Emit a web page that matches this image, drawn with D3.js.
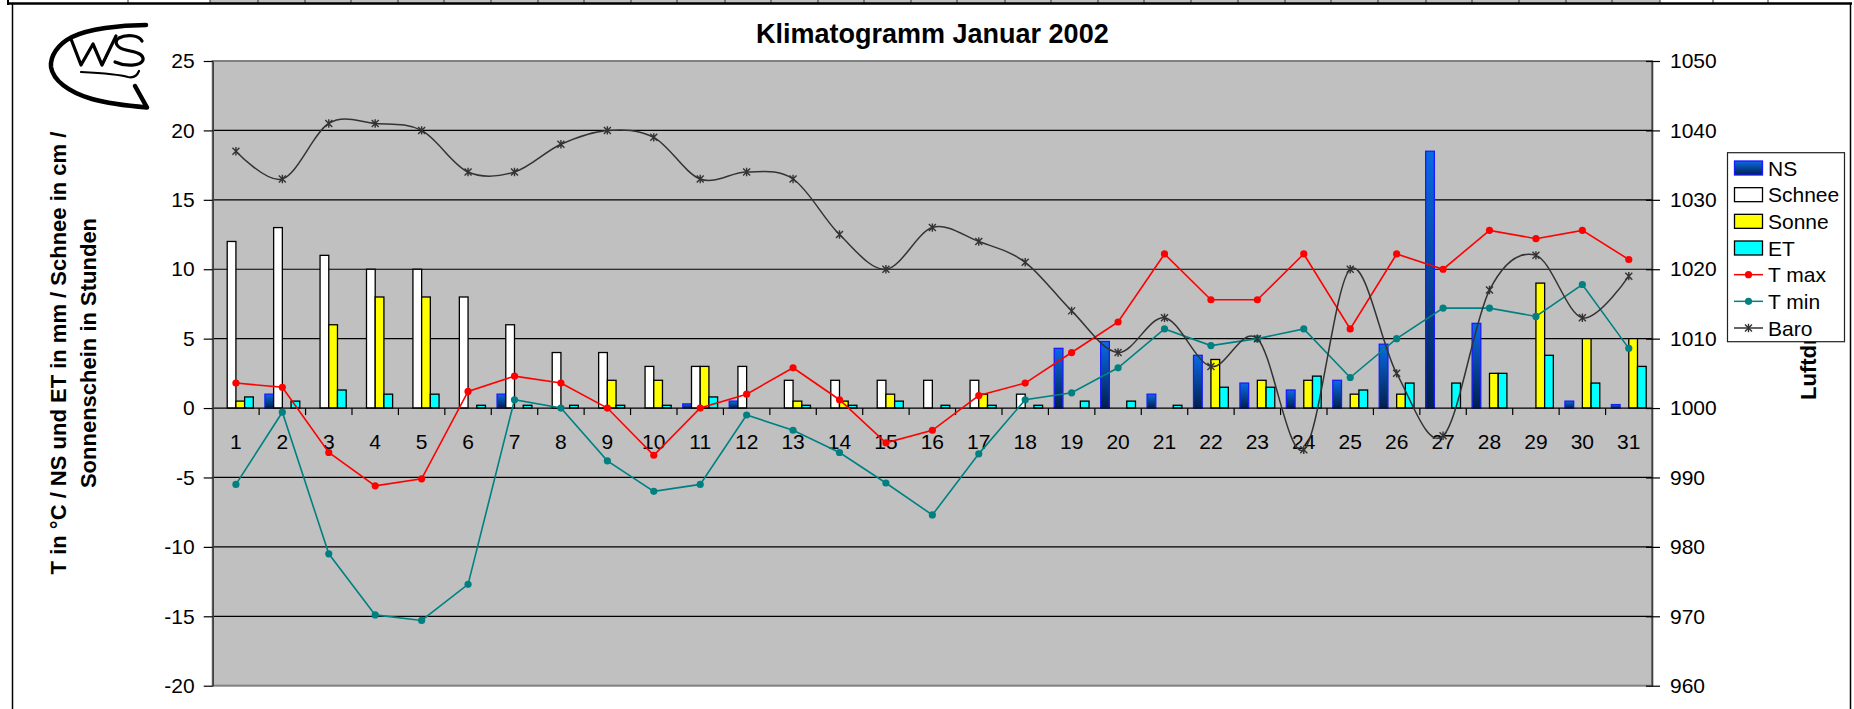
<!DOCTYPE html>
<html>
<head>
<meta charset="utf-8">
<script src="https://cdn.jsdelivr.net/npm/d3@7"></script>
<style>
  html, body { margin: 0; padding: 0; background: #ffffff; }
  svg { display: block; font-family: Arial, "Liberation Sans", sans-serif; }
</style>
</head>
<body>
<svg id="chart" width="1854" height="709"></svg>
<script>
// ---------------- data ----------------
const days = ["1","2","3","4","5","6","7","8","9","10","11","12","13","14","15","16","17","18","19","20","21","22","23","24","25","26","27","28","29","30","31"];
const ns     = [0, 1, 0, 0, 0, 0, 1, 0, 0, 0, 0.3, 0.5, 0, 0, 0, 0, 0, 0, 4.3, 4.8, 1, 3.8, 1.8, 1.3, 2, 4.6, 18.5, 6.1, 0, 0.5, 0.25];
const schnee = [12, 13, 11, 10, 10, 8, 6, 4, 4, 3, 3, 3, 2, 2, 2, 2, 2, 1, 0, 0, 0, 0, 0, 0, 0, 0, 0, 0, 0, 0, 0];
const sonne  = [0.5, 0, 6, 8, 8, 0, 0, 0, 2, 2, 3, 0, 0.5, 0.5, 1, 0, 1, 0, 0, 0, 0, 3.5, 2, 2, 1, 1, 0, 2.5, 9, 5, 5];
const et     = [0.8, 0.5, 1.3, 1, 1, 0.2, 0.2, 0.2, 0.2, 0.2, 0.8, 0, 0.2, 0.2, 0.5, 0.2, 0.2, 0.2, 0.5, 0.5, 0.2, 1.5, 1.5, 2.3, 1.3, 1.8, 1.8, 2.5, 3.8, 1.8, 3];
const tmax   = [1.8, 1.5, -3.2, -5.6, -5.1, 1.2, 2.3, 1.8, 0, -3.4, 0, 1, 2.9, 0.6, -2.5, -1.6, 0.9, 1.8, 4, 6.2, 11.1, 7.8, 7.8, 11.1, 5.7, 11.1, 10, 12.8, 12.2, 12.8, 10.7];
const tmin   = [-5.5, -0.3, -10.5, -14.9, -15.3, -12.7, 0.6, 0, -3.8, -6, -5.5, -0.5, -1.6, -3.2, -5.4, -7.7, -3.3, 0.6, 1.1, 2.9, 5.7, 4.5, 5, 5.7, 2.2, 5, 7.2, 7.2, 6.6, 8.9, 4.3];
const baro   = [1037, 1033, 1041, 1041, 1040, 1034, 1034, 1038, 1040, 1039, 1033, 1034, 1033, 1025, 1020, 1026, 1024, 1021, 1014, 1008, 1013, 1006, 1010, 994, 1020, 1005, 996, 1017, 1022, 1013, 1019];
const leftTicks  = [-20, -15, -10, -5, 0, 5, 10, 15, 20, 25];
const rightTicks = [960, 970, 980, 990, 1000, 1010, 1020, 1030, 1040, 1050];
const barSeries = ["NS", "Schnee", "Sonne", "ET"];
const lineSeries = ["T max", "T min", "Baro"];
const titleText = "Klimatogramm Januar 2002";
const leftTitle = ["T in °C / NS und ET in mm / Schnee in cm /", "Sonnenschein in Stunden"];
const rightTitle = "Luftdruck in hPa";

// ---------------- layout ----------------
const svg = d3.select("#chart");
const P = { left: 212.7, right: 1652, top: 61, bottom: 685.7 };
const x = d3.scaleBand().domain(days).range([P.left, P.right]).padding(0);
const bw = x.bandwidth();
const xb = d3.scaleBand().domain(barSeries).range([0, bw]).paddingInner(0).paddingOuter(0.6667);
const y = d3.scaleLinear().domain([-20, 25]).range([P.bottom, P.top]);
const y2 = d3.scaleLinear().domain([960, 1050]).range([P.bottom, P.top]);
const plainFmt = d => String(d);

const colors = { NS: "url(#nsGrad)", Schnee: "#ffffff", Sonne: "#ffff00", ET: "#00ffff" };
const strokes = { NS: "#1a1aff", Schnee: "#000", Sonne: "#000", ET: "#000" };
const barData = { NS: ns, Schnee: schnee, Sonne: sonne, ET: et };

const defs = svg.append("defs");
const g1 = defs.append("linearGradient").attr("id", "nsGrad").attr("x1", 0).attr("y1", 0).attr("x2", 0).attr("y2", 1);
g1.append("stop").attr("offset", "0%").attr("stop-color", "#0a6ae6");
g1.append("stop").attr("offset", "100%").attr("stop-color", "#00204a");

// ---------------- sheet strip & chart frame ----------------
const cellLines = [128, 210, 258, 305, 351, 398, 444, 491, 538, 584, 631, 677, 725, 771, 818, 864, 911, 957, 1005, 1051, 1098, 1144, 1191, 1238, 1285, 1331, 1378, 1426, 1472, 1519, 1566, 1612, 1660, 1713, 1768];
svg.append("rect").attr("x", 210).attr("y", 0).attr("width", 1450).attr("height", 3).attr("fill", "#c0c0c0");
svg.selectAll(".cell").data(cellLines).enter().append("line")
  .attr("x1", d => d).attr("x2", d => d).attr("y1", 0).attr("y2", 4)
  .attr("stroke", "#333").attr("stroke-width", 1);
svg.append("line").attr("x1", 7).attr("x2", 1852).attr("y1", 3.5).attr("y2", 3.5).attr("stroke", "#000").attr("stroke-width", 2.5);
svg.append("line").attr("x1", 8).attr("x2", 8).attr("y1", 0).attr("y2", 5).attr("stroke", "#000").attr("stroke-width", 2);
svg.append("line").attr("x1", 12.5).attr("x2", 12.5).attr("y1", 3).attr("y2", 709).attr("stroke", "#000").attr("stroke-width", 1.5);
svg.append("line").attr("x1", 1850.5).attr("x2", 1850.5).attr("y1", 3).attr("y2", 709).attr("stroke", "#000").attr("stroke-width", 1.5);

// ---------------- logo ----------------
const logo = svg.append("g").attr("fill", "none").attr("stroke", "#000").attr("stroke-linecap", "round").attr("stroke-linejoin", "round");
logo.append("path").attr("stroke-width", 4.5)
  .attr("d", "M146,25 C120,25 88,29 72,37 C58,44 50,56 51,67 C53,80 68,92 92,99 C110,104 130,106 147,107.5 L135,86");
logo.append("path").attr("stroke-width", 3.2)
  .attr("d", "M71,39 L81,65 L93,44 L102,65 L116,36");
logo.append("path").attr("stroke-width", 3.2)
  .attr("d", "M142,41 C139,35 126,34 119,38 C113,42 117,48 126,50 C136,52 144,54 143,60 C141,66 126,67 115,62");
logo.append("path").attr("stroke-width", 2.2)
  .attr("d", "M81,72 C100,73 118,74 128,77 C133,78 137,76 139,71");

// ---------------- title ----------------
svg.append("text").attr("x", (P.left + P.right) / 2).attr("y", 43)
  .attr("text-anchor", "middle").attr("font-size", 27).attr("font-weight", "bold").text(titleText);

// ---------------- plot area ----------------
svg.append("rect").attr("x", P.left).attr("y", P.top).attr("width", P.right - P.left).attr("height", P.bottom - P.top)
  .attr("fill", "#c0c0c0").attr("stroke", "#808080").attr("stroke-width", 2);

// gridlines
svg.append("g").selectAll("line").data(leftTicks.filter(t => t !== 25 && t !== -20 && t !== 0)).enter().append("line")
  .attr("x1", P.left).attr("x2", P.right).attr("y1", d => y(d)).attr("y2", d => y(d))
  .attr("stroke", "#000").attr("stroke-width", 1.2);

// bars
const barG = svg.append("g");
barSeries.forEach(s => {
  barG.append("g").selectAll("rect").data(barData[s].map((v, i) => ({ v, d: days[i] })).filter(o => o.v > 0))
    .enter().append("rect")
    .attr("x", o => x(o.d) + xb(s))
    .attr("width", xb.bandwidth())
    .attr("y", o => y(o.v))
    .attr("height", o => y(0) - y(o.v))
    .attr("fill", colors[s]).attr("stroke", strokes[s]).attr("stroke-width", 1.3);
});

// x axis line at 0 with boundary ticks
svg.append("line").attr("x1", P.left).attr("x2", P.right).attr("y1", y(0)).attr("y2", y(0)).attr("stroke", "#000").attr("stroke-width", 1.3);
svg.append("g").selectAll("line").data(days.slice(1)).enter().append("line")
  .attr("x1", d => x(d)).attr("x2", d => x(d)).attr("y1", y(0)).attr("y2", y(0) + 7)
  .attr("stroke", "#000").attr("stroke-width", 1.2);
const xAxis = d3.axisBottom(x).tickSize(0).tickPadding(26);
const xg = svg.append("g").attr("transform", `translate(0,${y(0)})`).call(xAxis);
xg.select(".domain").remove();
xg.selectAll("text").attr("font-size", 21).attr("fill", "#000").attr("font-family", "Arial, 'Liberation Sans', sans-serif");

// lines
const lineGen = (arr, sc) => d3.line().x((v, i) => x(days[i]) + bw / 2).y(v => sc(v))(arr);
svg.append("path").attr("d", lineGen(tmax, y)).attr("fill", "none").attr("stroke", "#ff0000").attr("stroke-width", 1.6);
svg.append("g").selectAll("circle").data(tmax).enter().append("circle")
  .attr("cx", (v, i) => x(days[i]) + bw / 2).attr("cy", v => y(v)).attr("r", 3.6).attr("fill", "#ff0000");
svg.append("path").attr("d", lineGen(tmin, y)).attr("fill", "none").attr("stroke", "#008080").attr("stroke-width", 1.6);
svg.append("g").selectAll("circle").data(tmin).enter().append("circle")
  .attr("cx", (v, i) => x(days[i]) + bw / 2).attr("cy", v => y(v)).attr("r", 3.6).attr("fill", "#008080");

const baroLine = d3.line().curve(d3.curveCatmullRom.alpha(0)).x((v, i) => x(days[i]) + bw / 2).y(v => y2(v));
svg.append("path").attr("d", baroLine(baro)).attr("fill", "none").attr("stroke", "#333").attr("stroke-width", 1.5);
const star = (cx, cy, r) => `M${cx - r},${cy - r}L${cx + r},${cy + r}M${cx - r},${cy + r}L${cx + r},${cy - r}M${cx},${cy - r * 1.2}L${cx},${cy + r * 1.2}`;
svg.append("g").selectAll("path").data(baro).enter().append("path")
  .attr("d", (v, i) => star(x(days[i]) + bw / 2, y2(v), 3.5))
  .attr("stroke", "#333").attr("stroke-width", 1.4).attr("fill", "none");

// left axis
const yAxis = d3.axisLeft(y).tickValues(leftTicks).tickFormat(plainFmt).tickSize(9).tickPadding(9).tickSizeOuter(0);
const ya = svg.append("g").attr("transform", `translate(${P.left},0)`).call(yAxis);
ya.select(".domain").attr("stroke", "#404040").attr("stroke-width", 1.6);
ya.selectAll(".tick line").attr("stroke", "#000").attr("stroke-width", 1.2);
ya.selectAll("text").attr("font-size", 21).attr("fill", "#000").attr("font-family", "Arial, 'Liberation Sans', sans-serif");

// right axis (cross ticks)
const y2Axis = d3.axisRight(y2).tickValues(rightTicks).tickFormat(plainFmt).tickSize(8).tickPadding(10).tickSizeOuter(0);
const ra = svg.append("g").attr("transform", `translate(${P.right},0)`).call(y2Axis);
ra.select(".domain").attr("stroke", "#404040").attr("stroke-width", 1.6);
ra.selectAll(".tick line").attr("x1", -6).attr("stroke", "#000").attr("stroke-width", 1.2);
ra.selectAll("text").attr("font-size", 21).attr("fill", "#000").attr("font-family", "Arial, 'Liberation Sans', sans-serif");

// axis titles
const lt = svg.append("g").attr("font-size", 22).attr("font-weight", "bold").attr("text-anchor", "middle");
lt.append("text").attr("transform", "translate(66,353) rotate(-90)").text(leftTitle[0]);
lt.append("text").attr("transform", "translate(96,353) rotate(-90)").text(leftTitle[1]);
svg.append("text").attr("transform", "translate(1816,400) rotate(-90)").attr("font-size", 22).attr("font-weight", "bold")
  .attr("text-anchor", "start").text(rightTitle);

// ---------------- legend ----------------
const lg = svg.append("g");
lg.append("rect").attr("x", 1727.5).attr("y", 152.7).attr("width", 117).attr("height", 189).attr("fill", "#fff").attr("stroke", "#222").attr("stroke-width", 1.2);
const legendItems = barSeries.concat(lineSeries);
const ly = d3.scalePoint().domain(legendItems).range([168, 328]);
legendItems.forEach(name => {
  const cy = ly(name);
  if (barSeries.includes(name)) {
    lg.append("rect").attr("x", 1734.5).attr("y", cy - 7).attr("width", 28).attr("height", 14)
      .attr("fill", colors[name]).attr("stroke", strokes[name]).attr("stroke-width", 1.3);
  } else {
    const col = name === "T max" ? "#ff0000" : name === "T min" ? "#008080" : "#333";
    lg.append("line").attr("x1", 1734).attr("x2", 1763).attr("y1", cy).attr("y2", cy).attr("stroke", col).attr("stroke-width", 1.5);
    if (name === "Baro") {
      lg.append("path").attr("d", star(1748.5, cy, 3.5)).attr("stroke", col).attr("stroke-width", 1.4);
    } else {
      lg.append("circle").attr("cx", 1748.5).attr("cy", cy).attr("r", 3.6).attr("fill", col);
    }
  }
  lg.append("text").attr("x", 1768).attr("y", cy).attr("dy", "0.36em").attr("font-size", 21).text(name);
});
</script>
</body>
</html>
